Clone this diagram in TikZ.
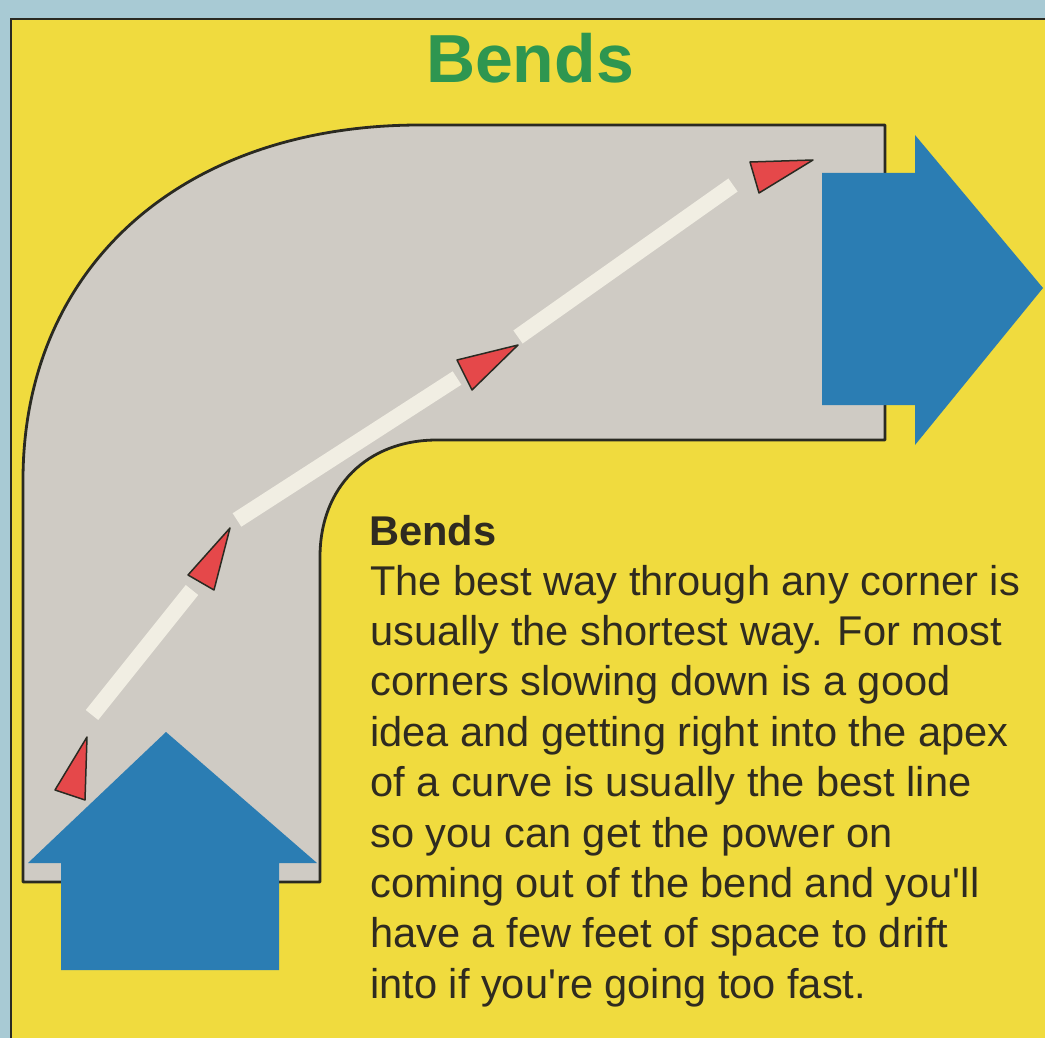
\documentclass[tikz,border=0pt]{standalone}
\usepackage{fontspec}
\setmainfont{Liberation Sans}
\definecolor{skyb}{HTML}{A8CAD4}
\definecolor{paper}{HTML}{F0DB3E}
\definecolor{road}{HTML}{CFCBC4}
\definecolor{edge}{HTML}{2A2A22}
\definecolor{arrowblue}{HTML}{2B7DB3}
\definecolor{cone}{HTML}{E5484A}
\definecolor{chalk}{HTML}{F1EEE3}
\definecolor{titlegreen}{HTML}{2E9650}
\definecolor{ink}{HTML}{2F2B20}
\tikzset{
  roadedge/.style={draw=edge, line width=2.8pt, line join=round},
  chalkline/.style={draw=chalk, line width=16pt, line cap=butt},
  marker/.style={fill=cone, draw=edge, line width=1.5pt, line join=round},
  bigarrow/.style={fill=arrowblue},
  bodytext/.style={anchor=base west, inner sep=0pt, text=ink, font=\fontsize{41.6}{50}\selectfont},
}
\begin{document}
\begin{tikzpicture}[x=1pt,y=-1pt]
\useasboundingbox (0,0) rectangle (1045,1038);
\fill[skyb] (0,0) rectangle (1045,1038);
\fill[paper] (11,19) rectangle (1045,1038);
\draw[edge, line width=2.5pt] (11,1038) -- (11,19) -- (1045,19);

% road
\path[roadedge, fill=road]
  (23,882) -- (23,480) .. controls (23,267) and (182,125) .. (420,125)
  -- (885,125) -- (885,440) -- (437,440)
  .. controls (367,440) and (320,487) .. (320,557)
  -- (320,882) -- cycle;

% racing line
\path[chalkline] (92,715) -- (192,590);
\path[chalkline] (237,520) -- (457,378);
\path[chalkline] (518,337) -- (733,185);

% markers
\path[marker] (750,162) -- (813,160) -- (759,193) -- cycle;
\path[marker] (457,360) -- (518,345) -- (472,390) -- cycle;
\path[marker] (188,575) -- (230,528) -- (214,590) -- cycle;
\path[marker] (55,790) -- (87,737) -- (85,800) -- cycle;

% blue arrows
\path[bigarrow] (61,970) -- (61,863) -- (28,863) -- (166,732) -- (317,863)
  -- (279,863) -- (279,970) -- cycle;
\path[bigarrow] (822,173) -- (915,173) -- (915,135) -- (1043,288) -- (915,445)
  -- (915,405) -- (822,405) -- cycle;

% texts
\node[anchor=base, inner sep=0pt, text=titlegreen, font=\fontsize{68}{80}\selectfont\bfseries] (title) at (530,83) {Bends};
\node[bodytext, font=\fontsize{41.6}{50}\selectfont\bfseries] (head) at (369,545) {Bends};
\foreach \txt [count=\i] in {
  {The best way through any corner is},
  {usually the shortest way. For most},
  {corners slowing down is a good},
  {idea and getting right into the apex},
  {of a curve is usually the best line},
  {so you can get the power on},
  {coming out of the bend and you\textquotesingle ll},
  {have a few feet of space to drift},
  {into if you\textquotesingle re going too fast.}}
  \node[bodytext] (line\i) at (370,{595+50.4*(\i-1)}) {\txt};
\end{tikzpicture}
\end{document}
